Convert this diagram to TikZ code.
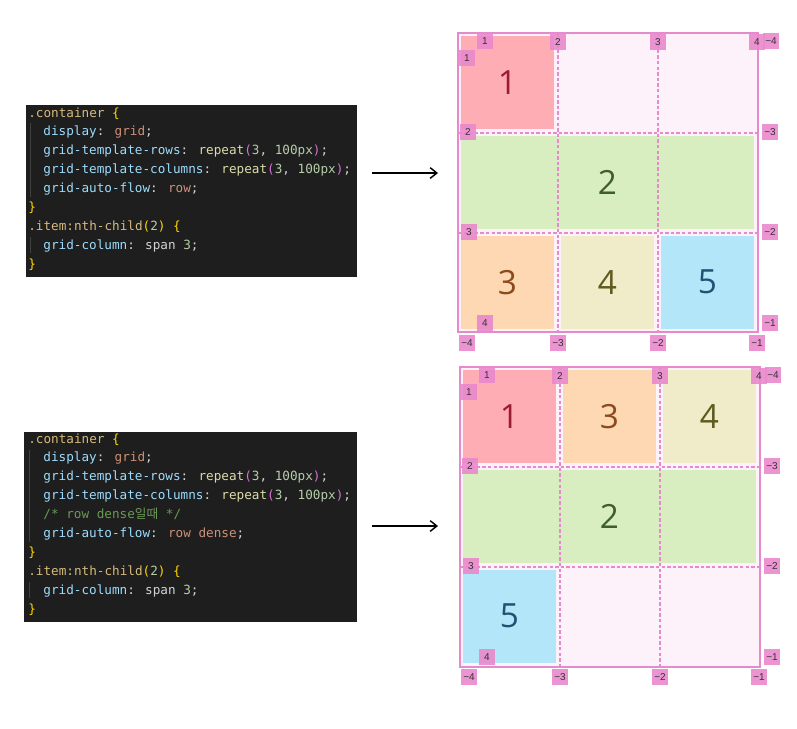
\documentclass[tikz,border=0pt]{standalone}
\usepackage{fontspec}
\usepackage{xcolor}
\usepackage{tikz}
\usetikzlibrary{arrows.meta,positioning,fit}
\newfontfamily\codefont{DejaVu Sans Mono}[WordSpace={1,0,0}]
\newfontfamily\krfont{Noto Sans CJK KR}
\newfontfamily\numfont{Open Sans}
\newfontfamily\tagfont{Liberation Sans}
% 코드 편집기 색
\definecolor{codebg}{HTML}{1E1E1E}
\definecolor{csel}{HTML}{D7BA7D}
\definecolor{cbr}{HTML}{FFD700}
\definecolor{cprop}{HTML}{9CDCFE}
\definecolor{cval}{HTML}{CE9178}
\definecolor{cfun}{HTML}{DCDCAA}
\definecolor{cpar}{HTML}{DA70D6}
\definecolor{cnum}{HTML}{B5CEA8}
\definecolor{cpun}{HTML}{D4D4D4}
\definecolor{ccom}{HTML}{6A9955}
\definecolor{cguide}{HTML}{404040}
% 그리드 색
\definecolor{gbg}{HTML}{FDF2FA}
\definecolor{gline}{HTML}{E58BCD}
\definecolor{badge}{HTML}{EA88CC}
\definecolor{it1}{HTML}{FFADB5}
\definecolor{tx1}{HTML}{9B1B30}
\definecolor{it2}{HTML}{D8EDC0}
\definecolor{tx2}{HTML}{3F5F2A}
\definecolor{it3}{HTML}{FDD8B3}
\definecolor{tx3}{HTML}{8A4B1D}
\definecolor{it4}{HTML}{F0EBC8}
\definecolor{tx4}{HTML}{5F5A1E}
\definecolor{it5}{HTML}{B4E6FA}
\definecolor{tx5}{HTML}{1F5374}
\newcommand{\cSel}[1]{\textcolor{csel}{#1}}
\newcommand{\cBr}[1]{\textcolor{cbr}{#1}}
\newcommand{\cProp}[1]{\textcolor{cprop}{#1}}
\newcommand{\cVal}[1]{\textcolor{cval}{#1}}
\newcommand{\cFun}[1]{\textcolor{cfun}{#1}}
\newcommand{\cPar}[1]{\textcolor{cpar}{#1}}
\newcommand{\cNum}[1]{\textcolor{cnum}{#1}}
\newcommand{\cCom}[1]{\textcolor{ccom}{#1}}
\tikzset{
  codebox/.style={fill=codebg, inner sep=0pt},
  codeln/.style={anchor=base west, inner sep=0pt, text=cpun,
                 font=\codefont\fontsize{9.5}{11}\selectfont},
  guide/.style={draw=cguide, line width=0.6pt},
  gbox/.style={fill=gbg, draw=gline, line width=0.9pt, inner sep=0pt},
  gitem/.style={inner sep=0pt},
  gnum/.style={font=\numfont\fontsize{25}{27}\selectfont},
  gdash/.style={draw=gline, line width=0.8pt, dash pattern=on 2.6pt off 1.6pt},
  badge/.style={fill=badge, fill opacity=0.9, text opacity=1, inner sep=0pt,
                minimum width=12pt, minimum height=11.5pt, text=black!80,
                font=\tagfont\fontsize{7.5}{8}\selectfont},
  ar/.style={-{Straight Barb[length=5pt,width=8pt]}, line width=1.1pt, draw=black},
}
\begin{document}
\begin{tikzpicture}[x=0.75pt, y=-0.75pt]
  \useasboundingbox (0,0) rectangle (797,729);

  % 코드 블록 1
  \node[codebox, fit={(26,105) (357,277)}] (code1) {};
  \draw[guide] (30,123) -- (30,197);
  \draw[guide] (30,237) -- (30,253);
  \foreach \ix/\txt [count=\k from 0] in {
      0/{\cSel{.container} \cBr{\{}},
      2/{\cProp{display}: \cVal{grid};},
      2/{\cProp{grid-template-rows}: \cFun{repeat}\cPar{(}\cNum{3}, \cNum{100px}\cPar{)};},
      2/{\cProp{grid-template-columns}: \cFun{repeat}\cPar{(}\cNum{3}, \cNum{100px}\cPar{)};},
      2/{\cProp{grid-auto-flow}: \cVal{row};},
      0/{\cBr{\}}},
      0/{\cSel{.item:nth-child}\cBr{(}\cNum{2}\cBr{)} \cBr{\{}},
      2/{\cProp{grid-column}: span \cNum{3};},
      0/{\cBr{\}}}}
    \node[codeln] (c1l\k) at ({28+7.6*\ix},{117+18.9*\k}) {\txt};

  % 코드 블록 2
  \node[codebox, fit={(24,432) (357,622)}] (code2) {};
  \draw[guide] (29,450) -- (29,542);
  \draw[guide] (29,582) -- (29,598);
  \foreach \ix/\txt [count=\k from 0] in {
      0/{\cSel{.container} \cBr{\{}},
      2/{\cProp{display}: \cVal{grid};},
      2/{\cProp{grid-template-rows}: \cFun{repeat}\cPar{(}\cNum{3}, \cNum{100px}\cPar{)};},
      2/{\cProp{grid-template-columns}: \cFun{repeat}\cPar{(}\cNum{3}, \cNum{100px}\cPar{)};},
      2/{\cCom{/* row dense{\krfont 일때} */}},
      2/{\cProp{grid-auto-flow}: \cVal{row dense};},
      0/{\cBr{\}}},
      0/{\cSel{.item:nth-child}\cBr{(}\cNum{2}\cBr{)} \cBr{\{}},
      2/{\cProp{grid-column}: span \cNum{3};},
      0/{\cBr{\}}}}
    \node[codeln] (c2l\k) at ({28+7.6*\ix},{443+18.9*\k}) {\txt};

  % 화살표
  \coordinate (a1s) at (372,173);
  \coordinate (a1e) at (438,173);
  \coordinate (a2s) at (372,526);
  \coordinate (a2e) at (438,526);
  \draw[ar] (a1s) -- (a1e);
  \draw[ar] (a2s) -- (a2e);

  % 그리드 바탕
  \node[gbox, fit={(458,33) (758,332)}] (g1) {};
  \node[gbox, fit={(460,367) (760,667)}] (g2) {};

  % 아이템: 번호/열/행/열 개수
  \foreach \n/\c/\r/\w in {1/1/1/1, 2/1/2/3, 3/1/3/1, 4/2/3/1, 5/3/3/1}
    \node[gitem, fill=it\n,
          fit={({458+100*(\c-1)+3},{33+100*(\r-1)+2.5}) ({458+100*(\c-1+\w)-4},{33+100*\r-4})},
          label={[gnum, text=tx\n]center:\n}] (g1i\n) {};
  \foreach \n/\c/\r/\w in {1/1/1/1, 3/2/1/1, 4/3/1/1, 2/1/2/3, 5/1/3/1}
    \node[gitem, fill=it\n,
          fit={({460+100*(\c-1)+3},{367+100*(\r-1)+2.5}) ({460+100*(\c-1+\w)-4},{367+100*\r-4})},
          label={[gnum, text=tx\n]center:\n}] (g2i\n) {};

  % 그리드 선과 번호표
  \foreach \g/\ox/\oy in {1/458/33, 2/460/367} {
    \foreach \d in {100,200} {
      \draw[gdash] ({\ox+\d},\oy) -- ({\ox+\d},{\oy+300});
      \draw[gdash] (\ox,{\oy+\d}) -- ({\ox+300},{\oy+\d});
    }
    \foreach \dx/\dy/\t [count=\i] in {27/8/1, 100/9/2, 200/9/3, 299/9/4, 313/8/−4,
        9/25/1, 10/99/2, 11/199/3, 27/290/4,
        312/99/−3, 312/199/−2, 312/290/−1,
        9/310/−4, 100/310/−3, 200/310/−2, 299/310/−1}
      \node[badge] (g\g b\i) at ({\ox+\dx},{\oy+\dy}) {\t};
  }
\end{tikzpicture}
\end{document}
